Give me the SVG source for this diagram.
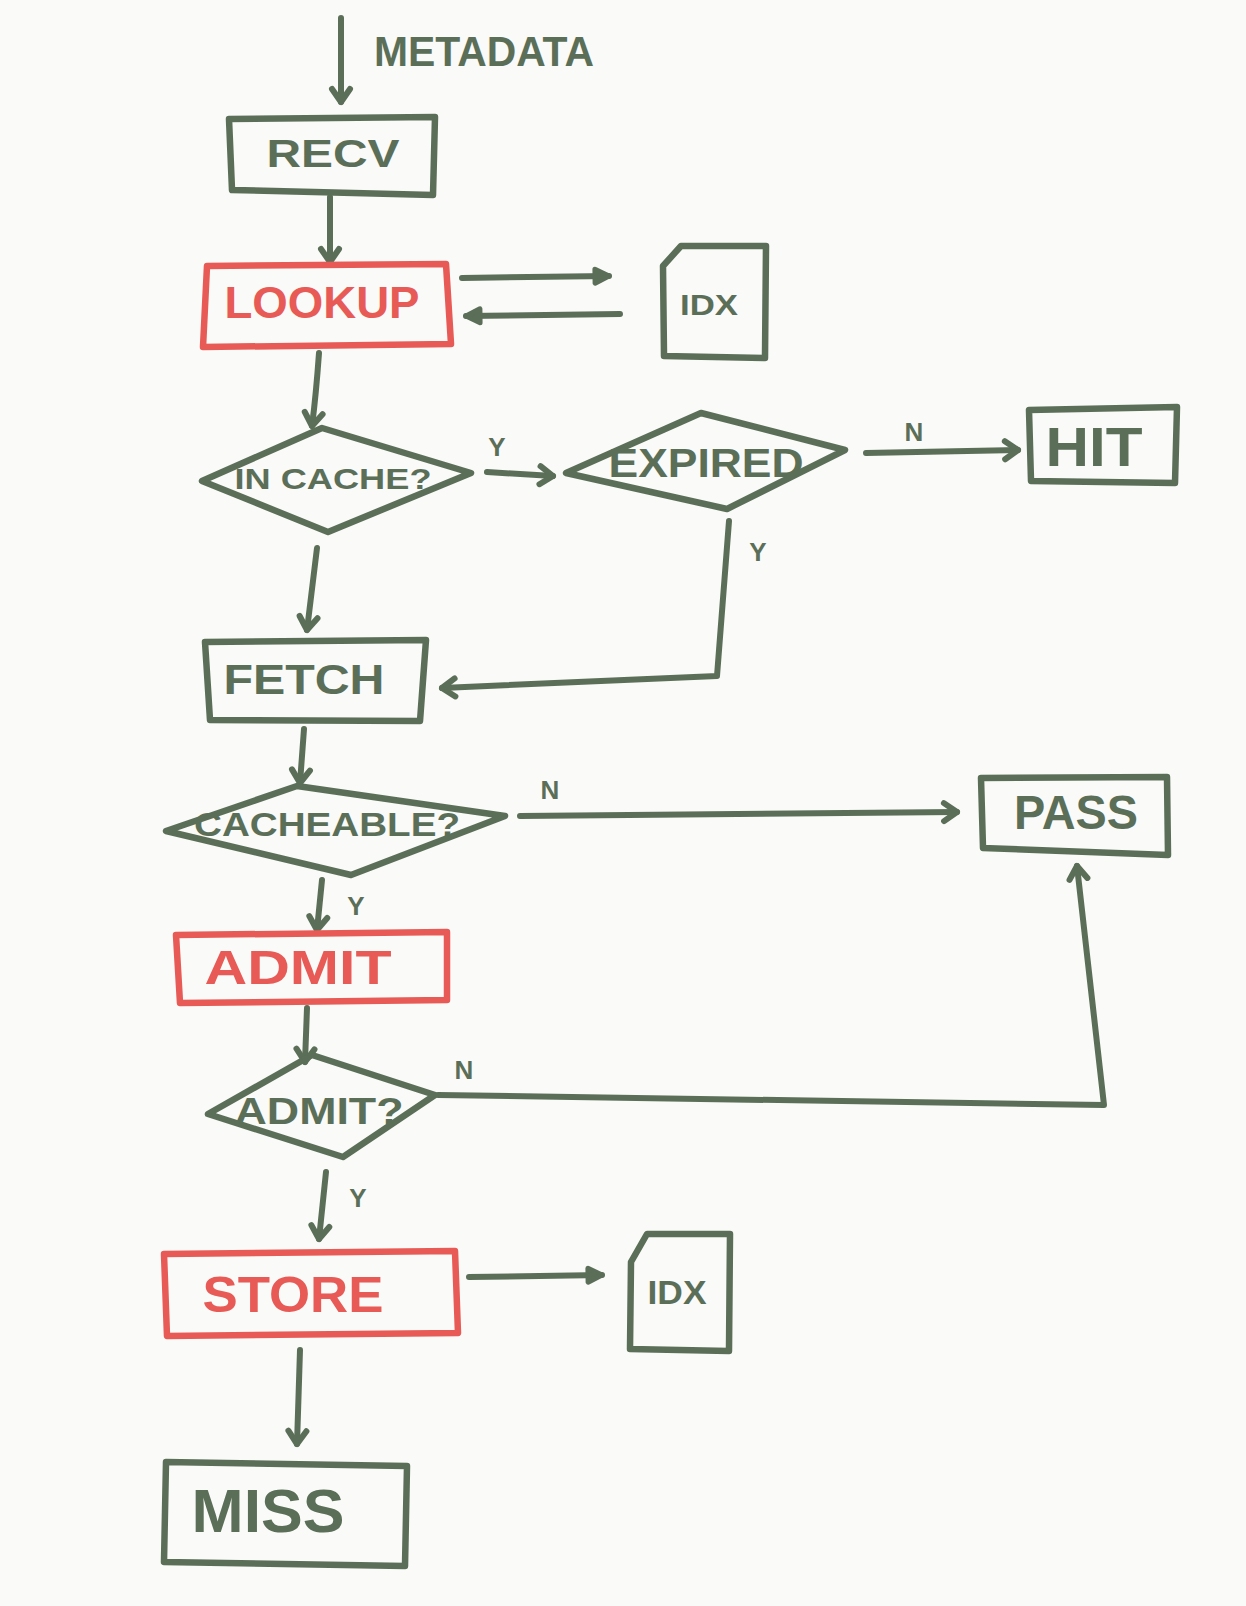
<svg xmlns="http://www.w3.org/2000/svg" width="1246" height="1606" viewBox="0 0 1246 1606">
<style>
.g{fill:none;stroke:#5b6f58;stroke-width:6.5;stroke-linecap:round;stroke-linejoin:round}
.r{fill:none;stroke:#e85a55;stroke-width:6.5;stroke-linecap:round;stroke-linejoin:round}
.c{fill:none;stroke:#5b6f58;stroke-width:6;stroke-linecap:round;stroke-linejoin:round}
text{font-family:"Liberation Sans",Arial,sans-serif;font-weight:bold;text-anchor:middle;dominant-baseline:central}
.tg{fill:#5b6f58}
.tr{fill:#e85a55}
.lb{fill:#5b6f58;font-size:26px}
</style>
<defs>
<marker id="chev" viewBox="0 0 26 26" refX="21" refY="13" markerWidth="26" markerHeight="26" orient="auto" markerUnits="userSpaceOnUse">
<path d="M8,4 L21,13 L8,22" fill="none" stroke="#5b6f58" stroke-width="6" stroke-linecap="round" stroke-linejoin="round"/>
</marker>
<marker id="tri" viewBox="0 0 26 26" refX="21" refY="13" markerWidth="26" markerHeight="26" orient="auto" markerUnits="userSpaceOnUse">
<path d="M7,6 L21,13 L7,20 Z" fill="#5b6f58" stroke="#5b6f58" stroke-width="5" stroke-linejoin="round"/>
</marker>
</defs>
<rect x="0" y="0" width="1246" height="1606" fill="#fafaf8"/>

<g id="connectors">
<path class="c" d="M341,18 L341,102" marker-end="url(#chev)"/>
<path class="c" d="M330,197 L330,262" marker-end="url(#chev)"/>
<path class="c" d="M462,278 L609,276" marker-end="url(#tri)"/>
<path class="c" d="M620,314 L466,316" marker-end="url(#tri)"/>
<path class="c" d="M319,353 Q316,395 312,426" marker-end="url(#chev)"/>
<path class="c" d="M487,472 L553,476" marker-end="url(#chev)"/>
<path class="c" d="M866,453 L1018,450" marker-end="url(#chev)"/>
<path class="c" d="M729,521 L717,676 L442,688" marker-end="url(#chev)"/>
<path class="c" d="M317,548 L307,630" marker-end="url(#chev)"/>
<path class="c" d="M304,729 L300,783" marker-end="url(#chev)"/>
<path class="c" d="M520,816 L957,812" marker-end="url(#chev)"/>
<path class="c" d="M322,880 L317,930" marker-end="url(#chev)"/>
<path class="c" d="M307,1008 L305,1062" marker-end="url(#chev)"/>
<path class="c" d="M438,1095 L1104,1105 L1077,866" marker-end="url(#chev)"/>
<path class="c" d="M326,1172 L319,1239" marker-end="url(#chev)"/>
<path class="c" d="M469,1277 L602,1275" marker-end="url(#tri)"/>
<path class="c" d="M300,1350 L297,1444" marker-end="url(#chev)"/>
<text class="lb" x="497" y="447">Y</text>
<text class="lb" x="914" y="432">N</text>
<text class="lb" x="758" y="552">Y</text>
<text class="lb" x="550" y="790">N</text>
<text class="lb" x="356" y="906">Y</text>
<text class="lb" x="464" y="1070">N</text>
<text class="lb" x="358" y="1198">Y</text>
</g>

<g id="metadata">
<text class="tg" x="484" y="51" font-size="42" textLength="220" lengthAdjust="spacingAndGlyphs">METADATA</text>
</g>
<g id="recv">
<path class="g" d="M229,119 L435,117 L433,195 L232,190 Z"/>
<text class="tg" x="333" y="154" font-size="38" textLength="133" lengthAdjust="spacingAndGlyphs">RECV</text>
</g>
<g id="lookup">
<path class="r" d="M207,266 L446,264 L451,344 L203,347 Z"/>
<text class="tr" x="322" y="302" font-size="44" textLength="195" lengthAdjust="spacingAndGlyphs">LOOKUP</text>
</g>
<g id="idx1">
<path class="g" d="M681,246 L766,246 L765,358 L664,356 L663,266 Z"/>
<text class="tg" x="709" y="304" font-size="30" textLength="58" lengthAdjust="spacingAndGlyphs">IDX</text>
</g>
<g id="incache">
<path class="g" d="M202,481 L322,428 L471,473 L328,532 Z"/>
<text class="tg" x="333" y="478" font-size="30" textLength="197" lengthAdjust="spacingAndGlyphs">IN CACHE?</text>
</g>
<g id="expired">
<path class="g" d="M566,473 L701,413 L845,450 L727,509 Z"/>
<text class="tg" x="706" y="463" font-size="40" textLength="195" lengthAdjust="spacingAndGlyphs">EXPIRED</text>
</g>
<g id="hit">
<path class="g" d="M1029,410 L1177,407 L1175,483 L1031,481 Z"/>
<text class="tg" x="1094" y="446" font-size="56" textLength="97" lengthAdjust="spacingAndGlyphs">HIT</text>
</g>
<g id="fetch">
<path class="g" d="M205,642 L426,640 L420,721 L210,720 Z"/>
<text class="tg" x="304" y="679" font-size="42" textLength="161" lengthAdjust="spacingAndGlyphs">FETCH</text>
</g>
<g id="cacheable">
<path class="g" d="M166,831 L297,786 L505,816 L351,875 Z"/>
<text class="tg" x="327" y="824" font-size="34" textLength="266" lengthAdjust="spacingAndGlyphs">CACHEABLE?</text>
</g>
<g id="pass">
<path class="g" d="M981,778 L1167,777 L1168,855 L983,848 Z"/>
<text class="tg" x="1076" y="812" font-size="48" textLength="124" lengthAdjust="spacingAndGlyphs">PASS</text>
</g>
<g id="admit">
<path class="r" d="M176,935 L447,932 L447,1000 L180,1003 Z"/>
<text class="tr" x="298" y="967" font-size="48" textLength="187" lengthAdjust="spacingAndGlyphs">ADMIT</text>
</g>
<g id="admitq">
<path class="g" d="M208,1114 L312,1055 L435,1095 L343,1157 Z"/>
<text class="tg" x="319" y="1111" font-size="36" textLength="169" lengthAdjust="spacingAndGlyphs">ADMIT?</text>
</g>
<g id="store">
<path class="r" d="M164,1254 L455,1251 L458,1333 L167,1336 Z"/>
<text class="tr" x="293" y="1295" font-size="50" textLength="181" lengthAdjust="spacingAndGlyphs">STORE</text>
</g>
<g id="idx2">
<path class="g" d="M647,1234 L730,1234 L729,1351 L630,1349 L631,1262 Z"/>
<text class="tg" x="677" y="1292" font-size="34" textLength="59" lengthAdjust="spacingAndGlyphs">IDX</text>
</g>
<g id="miss">
<path class="g" d="M166,1462 L407,1466 L405,1566 L164,1562 Z"/>
<text class="tg" x="268" y="1510" font-size="62" textLength="153" lengthAdjust="spacingAndGlyphs">MISS</text>
</g>
</svg>
